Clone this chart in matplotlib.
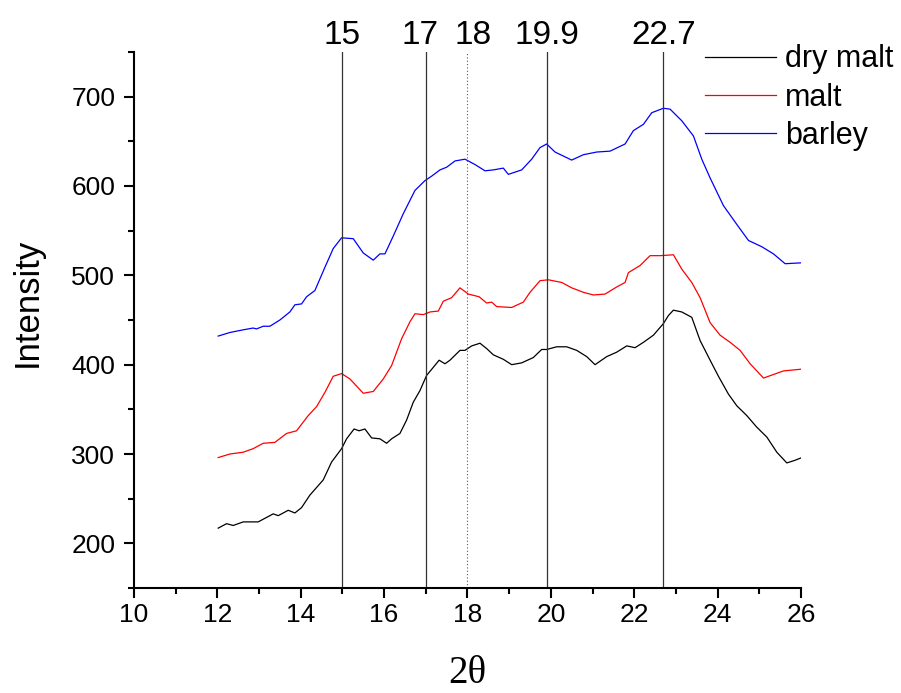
import matplotlib
matplotlib.use("Agg")
import matplotlib.pyplot as plt
from matplotlib.ticker import MultipleLocator

plt.rcParams['font.family'] = ['Liberation Sans', 'DejaVu Sans']

# XRD scans (2theta, intensity)
dry_x = [12.02, 12.22, 12.38, 12.62, 12.98, 13.34, 13.46, 13.70, 13.86, 14.02,
         14.22, 14.54, 14.74, 14.98, 15.10, 15.28, 15.40, 15.54, 15.70, 15.90,
         16.06, 16.18, 16.38, 16.54, 16.70, 16.86, 17.02, 17.18, 17.32, 17.46,
         17.58, 17.82, 17.94, 18.10, 18.30, 18.46, 18.62, 18.86, 19.06, 19.30,
         19.58, 19.78, 19.90, 20.14, 20.38, 20.62, 20.86, 21.06, 21.34, 21.58,
         21.82, 22.02, 22.22, 22.46, 22.70, 22.82, 22.94, 23.14, 23.38, 23.58,
         23.82, 24.02, 24.26, 24.46, 24.70, 24.94, 25.18, 25.42, 25.66, 25.86,
         26.02]
dry_y = [217, 222, 220, 224, 224, 233, 231, 237, 234, 240,
         254, 271, 291, 306, 317, 328, 326, 328, 318, 317,
         312, 317, 323, 338, 358, 371, 388, 397, 405, 401,
         405, 416, 416, 421, 424, 418, 411, 406, 400, 402,
         408, 417, 417, 420, 420, 416, 409, 400, 409, 414,
         421, 419, 425, 433, 446, 455, 461, 459, 453, 427,
         405, 387, 367, 354, 343, 330, 319, 302, 290, 293,
         296]

malt_x = [12.02, 12.30, 12.62, 12.86, 13.10, 13.38, 13.66, 13.90, 14.18, 14.38,
          14.58, 14.78, 14.98, 15.18, 15.34, 15.50, 15.74, 15.98, 16.18, 16.42,
          16.62, 16.74, 16.94, 17.10, 17.30, 17.42, 17.62, 17.82, 18.02, 18.28,
          18.46, 18.58, 18.70, 19.06, 19.34, 19.50, 19.74, 19.94, 20.26, 20.50,
          20.78, 21.02, 21.30, 21.58, 21.78, 21.86, 22.14, 22.38, 22.62, 22.94,
          23.14, 23.38, 23.58, 23.82, 24.06, 24.30, 24.54, 24.78, 25.10, 25.34,
          25.58, 26.02]
malt_y = [296, 300, 302, 306, 312, 313, 323, 326, 343, 353,
          369, 387, 390, 384, 376, 368, 370, 384, 399, 429,
          448, 457, 456, 459, 460, 471, 475, 486, 479, 476,
          469, 470, 465, 464, 470, 481, 494, 495, 492, 486,
          481, 478, 479, 487, 492, 503, 511, 522, 522, 523,
          507, 492, 475, 447, 433, 425, 416, 401, 385, 389,
          393, 395]

barley_x = [12.02, 12.30, 12.62, 12.86, 12.94, 13.10, 13.26, 13.50, 13.74, 13.86,
            14.02, 14.14, 14.34, 14.58, 14.78, 14.98, 15.26, 15.50, 15.74, 15.90,
            16.02, 16.22, 16.46, 16.74, 16.98, 17.14, 17.34, 17.50, 17.70, 17.94,
            18.18, 18.42, 18.62, 18.86, 18.98, 19.30, 19.54, 19.74, 19.90, 20.10,
            20.50, 20.78, 21.10, 21.42, 21.78, 21.98, 22.22, 22.42, 22.70, 22.86,
            23.14, 23.42, 23.62, 23.82, 24.14, 24.46, 24.74, 25.06, 25.34, 25.62,
            26.02]
barley_y = [432, 436, 439, 441, 440, 443, 443, 450, 459, 467,
            468, 476, 483, 509, 530, 542, 541, 525, 517, 524,
            524, 544, 569, 595, 606, 611, 618, 621, 628, 630,
            624, 617, 618, 620, 613, 618, 630, 643, 647, 638,
            629, 635, 638, 639, 647, 662, 669, 682, 687, 686,
            673, 656, 630, 609, 578, 557, 539, 532, 524, 513,
            514]

peaks = [15, 17, 18, 19.9, 22.7]
peak_labels = ["15", "17", "18", "19.9", "22.7"]
dotted_peaks = [18]


def main():
    fig = plt.figure(figsize=(9.01, 6.93), dpi=100)
    ax = fig.add_axes([0.1487, 0.1515, 0.7403, 0.7735])

    ax.plot(dry_x, dry_y, color='black', lw=0.9, label='dry malt')
    ax.plot(malt_x, malt_y, color='red', lw=0.9, label='malt')
    ax.plot(barley_x, barley_y, color='blue', lw=0.9, label='barley')

    #   small nudges (points) so the close labels 17 / 18 don't touch
    nudge = {17: -4, 18: 4}

    #   reference lines with their labels above the plot
    for p, lab in zip(peaks, peak_labels):
        if p in dotted_peaks:
            ax.axvline(p, color='0.35', lw=0.8, ls=(0, (1, 2)))
        else:
            ax.axvline(p, color='0.2', lw=0.9)
        ax.annotate(lab, (p, 1.0), xycoords=ax.get_xaxis_transform(),
                    xytext=(nudge.get(p, 0), 1), textcoords='offset points',
                    ha='center', va='bottom', fontsize=24)

    ax.set_xlim(10, 26)
    ax.set_ylim(150, 750)
    ax.xaxis.set_major_locator(MultipleLocator(2))
    ax.xaxis.set_minor_locator(MultipleLocator(1))
    ax.yaxis.set_major_locator(MultipleLocator(100))
    ax.yaxis.set_minor_locator(MultipleLocator(50))
    ax.set_yticks([200, 300, 400, 500, 600, 700])

    for s in ['top', 'right']:
        ax.spines[s].set_visible(False)
    for s in ['left', 'bottom']:
        ax.spines[s].set_linewidth(1.5)
    ax.tick_params(which='major', direction='out', length=7.5, width=1.5,
                   labelsize=19)
    ax.tick_params(axis='y', which='major', pad=6)
    ax.tick_params(which='minor', direction='out', length=4, width=1.5)

    ax.set_xlabel('2θ', family=['Liberation Serif', 'DejaVu Serif'],
                  fontsize=28, labelpad=20)
    ax.set_ylabel('Intensity', fontsize=25)
    ax.yaxis.set_label_coords(-0.135, 0.532)

    fig.legend(loc='upper left', bbox_to_anchor=(0.783, 0.936), frameon=False,
               fontsize=22, handlelength=2.3, handletextpad=0.3,
               labelspacing=0.27, borderpad=0, borderaxespad=0)

    fig.savefig('out.png', dpi=100)


if __name__ == "__main__":
    main()
